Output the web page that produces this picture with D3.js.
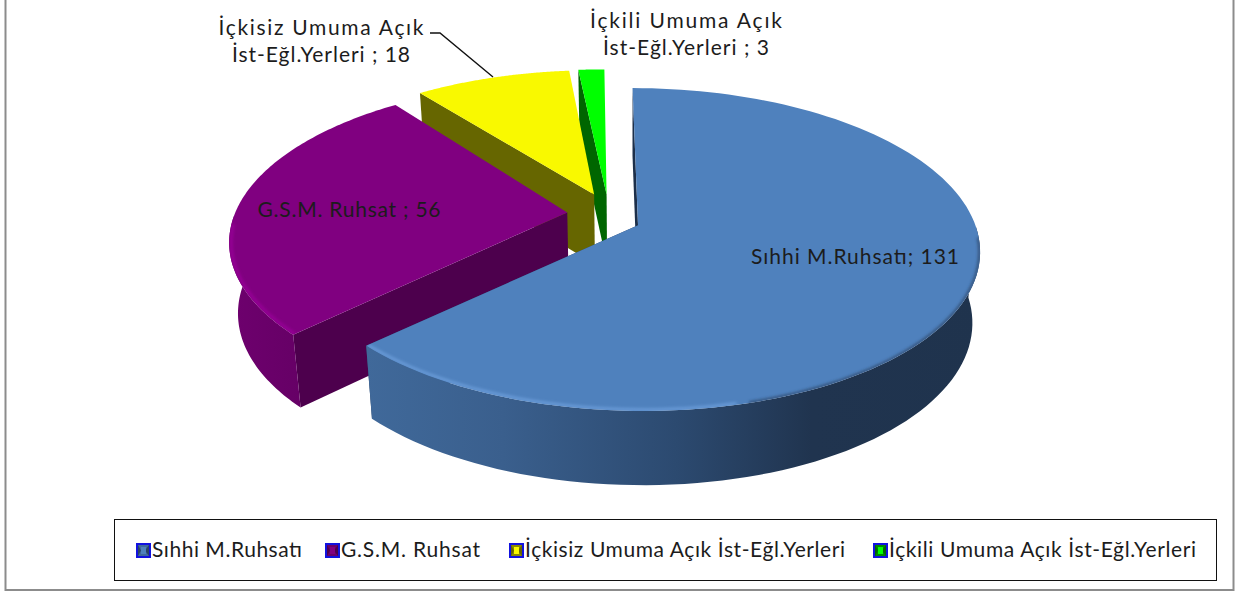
<!DOCTYPE html>
<html><head><meta charset="utf-8">
<script src="https://cdn.jsdelivr.net/npm/d3@7/dist/d3.min.js"></script>
<style>
html,body{margin:0;padding:0;background:#fff;overflow:hidden}
svg{display:block}
text{font-family:Lato,"Open Sans",sans-serif;fill:#1c1c1c;font-size:21px}
</style></head><body>
<svg id="c" width="1239" height="592"></svg>
<script>
const categories = ["Sıhhi M.Ruhsatı","G.S.M. Ruhsat","İçkisiz Umuma Açık İst-Eğl.Yerleri","İçkili Umuma Açık İst-Eğl.Yerleri"];
const values = [131,56,18,3];
const topColors = ["#4f81bd","#800080","#f9f900","#00ff00"];
const wallColors = ["#2a4365","#4d004d","#666600","#006600"];
const rimColors = ["#3f6a9c","#6a006a","#8a8a00","#008800"];
const pointLabels = [
  {lines:["Sıhhi M.Ruhsatı; 131"],x:855,y:264,w:[208]},
  {lines:["G.S.M. Ruhsat ; 56"],x:349,y:217,w:[183]},
  {lines:["İçkisiz Umuma Açık","İst-Eğl.Yerleri ; 18"],x:321,y:[35,62],w:[205,178]},
  {lines:["İçkili Umuma Açık","İst-Eğl.Yerleri ; 3"],x:686,y:[28,55],w:[192,166]}
];
const legendX = [136,325,509,873];
const legendW = [150,139,320,307];

const svg = d3.select("#c");
const defs = svg.append("defs");

svg.append("rect").attr("x",5.5).attr("y",-3).attr("width",1228).attr("height",593)
  .attr("fill","#fff").attr("stroke","#8c8c8c").attr("stroke-width",2);

defs.append("filter").attr("id","soft").attr("x","-5%").attr("y","-5%").attr("width","110%").attr("height","110%")
  .append("feGaussianBlur").attr("stdDeviation",1.5);

const g1 = defs.append("linearGradient").attr("id","blueWall").attr("gradientUnits","userSpaceOnUse")
  .attr("x1",367).attr("x2",985).attr("y1",0).attr("y2",0);
[[0,"#40699a"],[.22,"#3a5f8d"],[.5,"#2c4a70"],[.72,"#20344f"],[1,"#1f334d"]].forEach(s=>
  g1.append("stop").attr("offset",s[0]).attr("stop-color",s[1]));
const g2 = defs.append("linearGradient").attr("id","purpleWall").attr("gradientUnits","userSpaceOnUse")
  .attr("x1",228).attr("x2",300).attr("y1",0).attr("y2",0);
[[0,"#6e006e"],[1,"#660066"]].forEach(s=>g2.append("stop").attr("offset",s[0]).attr("stop-color",s[1]));

// projection: ground plane -> screen, with perspective
const cx=603, cy=218, Rx=336, Ry=155.6, persp=.15, explode=.115, depth=71;
const sliceShift=[-.005,.014,.014,.01];
const apexShift=[[1,0],[-2,-4],[0,-7],[2,-6]];
const sx = d3.scaleLinear().domain([0,1]).range([cx,cx+Rx]);
const sy = d3.scaleLinear().domain([0,1]).range([cy,cy+Ry]);
function project(u,v,low){
  const w = 1-persp*v;
  return lower(sx(u/w),sy(v/w),low);
}
function lower(x,y,low){
  if(low){ x = 630+(x-630)*.978; y = y+depth+(y-250)*.02; }
  return [x,y];
}
const pie = d3.pie().sort(null).value(d=>d).startAngle(0).endAngle(2*Math.PI);
const arcs = pie(values);
const line = d3.line();
const N = 120;
arcs.forEach((a,i)=>{
  const mid=(a.startAngle+a.endAngle)/2;
  a.ou=Math.sin(mid)*explode+sliceShift[i];
  a.ov=-Math.cos(mid)*explode;
  a.pt=(t,r,low)=>{
    if(r===0){
      const w=1-persp*a.ov;
      return lower(sx(a.ou/w)+apexShift[i][0],sy(a.ov/w)+apexShift[i][1],low);
    }
    return project(a.ou+r*Math.sin(t),a.ov-r*Math.cos(t),low);
  };
  a.samples=d3.range(N+1).map(k=>a.startAngle+(a.endAngle-a.startAngle)*k/N);
});

const wallFill=i=> i===0?"url(#blueWall)":i===1?"url(#purpleWall)":rimColors[i];
function wallPath(a,ts){
  return line(ts.map(t=>a.pt(t,1,false)).concat(ts.slice().reverse().map(t=>a.pt(t,1,true))))+"Z";
}
function radial(a,t){
  return line([a.pt(t,0,false),a.pt(t,1,false),a.pt(t,1,true),a.pt(t,0,true)])+"Z";
}
[3,2,1,0].forEach(i=>{
  const a=arcs[i], g=svg.append("g");
  if(i===0){
    g.append("path").attr("d",radial(a,a.startAngle)).attr("fill","#1c2f4a");
    g.append("path").attr("d",radial(a,a.endAngle)).attr("fill",wallColors[i]);
  } else {
    g.append("path").attr("d",radial(a,a.startAngle)).attr("fill",wallColors[i]);
  }
  const front=a.samples.filter(t=>Math.cos(t)<0.02);
  if(front.length>1) g.append("path").attr("d",wallPath(a,front)).attr("fill",wallFill(i));
  const outline=[a.pt(0,0,false)].concat(a.samples.map(t=>a.pt(t,1,false)));
  g.append("path").attr("d",line(outline)+"Z").attr("fill",topColors[i]);
  if(i<2 && front.length>1){
    const clipId="clip"+i;
    defs.append("clipPath").attr("id",clipId).append("path").attr("d",line(outline)+"Z");
    const r=a.samples.filter(t=>Math.cos(t)<-.05);
    const lit=r.filter(t=> i===1 || Math.sin(t)<.25);
    const dark=r.filter(t=> i===0 && Math.sin(t)>=.25);
    const wrap=g.append("g").attr("clip-path",`url(#${clipId})`);
    wrap.append("path").attr("d",line(lit.map(t=>a.pt(t,.994,false)))).attr("fill","none")
      .attr("stroke",i===0?"#6d9fdc":"#9a009a").attr("stroke-width",2.5).attr("filter","url(#soft)");
    if(dark.length>1) wrap.append("path").attr("d",line(dark.map(t=>a.pt(t,.998,false)))).attr("fill","none")
      .attr("stroke","#2a4365").attr("stroke-width",2).attr("filter","url(#soft)");
  }
});

svg.append("path").attr("d",line([[430,33],[440,33],[493,77]])).attr("fill","none").attr("stroke","#111").attr("stroke-width",1.4);

pointLabels.forEach(p=>p.lines.forEach((s,k)=>{
  svg.append("text").attr("x",p.x).attr("y",Array.isArray(p.y)?p.y[k]:p.y)
    .attr("text-anchor","middle").attr("textLength",p.w[k]).attr("lengthAdjust","spacing").text(s);
}));

svg.append("rect").attr("x",114.5).attr("y",519.5).attr("width",1102).attr("height",61)
  .attr("fill","#fff").attr("stroke","#111").attr("stroke-width",1);
categories.forEach((c,i)=>{
  const x=legendX[i], y=543, s=15;
  const g=svg.append("g");
  g.append("rect").attr("x",x).attr("y",y).attr("width",s).attr("height",s).attr("fill","#1212e0");
  g.append("rect").attr("x",x+2).attr("y",y+2).attr("width",s-4).attr("height",s-4).attr("fill",rimColors[i]);
  g.append("path").attr("d",line([[x+2,y+2],[x+5,y+s/2],[x+2,y+s-2]])+"Z").attr("fill",wallColors[i]);
  g.append("path").attr("d",line([[x+s-2,y+2],[x+s-2,y+s-2],[x+s-6,y+s/2]])+"Z").attr("fill",wallColors[i]);
  g.append("rect").attr("x",x+5).attr("y",y+4).attr("width",s-10).attr("height",s-8).attr("fill",topColors[i]);
  svg.append("text").attr("x",x+16).attr("y",557).attr("textLength",legendW[i]).attr("lengthAdjust","spacing").text(c);
});
</script></body></html>
